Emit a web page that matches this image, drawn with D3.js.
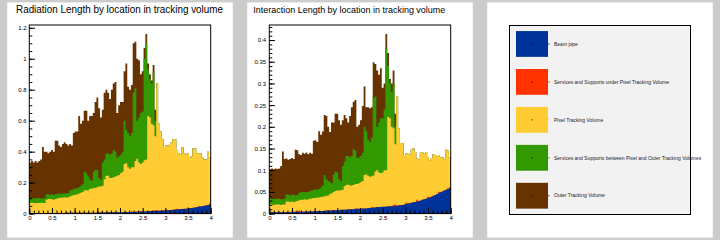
<!DOCTYPE html>
<html>
<head>
<meta charset="utf-8">
<script src="https://cdn.jsdelivr.net/npm/d3@7"></script>
<style>
body{margin:0;background:#cccccc}
svg{display:block;font-family:"Liberation Sans",Arial,sans-serif}
</style>
</head>
<body>
<svg id="chart" width="720" height="240"></svg>
<script>
var etaMin = 0, etaMax = 4, nBins = 100
var binW = (etaMax - etaMin) / nBins

var names = ["Beam pipe",
    "Services and Supports under Pixel Tracking Volume",
    "Pixel Tracking Volume",
    "Services and Supports between Pixel and Outer Tracking Volumes",
    "Outer Tracking Volume"]
var colors = ["#003399", "#ff3300", "#ffcc33", "#339900", "#663300"]

// values are cumulative: each layer includes the layers below it (stacked histos)
var radBeamPipe = [
    0.004,0.004,0.004,0.004,0.004,0.004,0.004,0.004,0.004,0.004,
    0.004,0.004,0.004,0.004,0.004,0.004,0.004,0.004,0.004,0.004,
    0.005,0.005,0.005,0.005,0.005,0.005,0.005,0.005,0.005,0.005,
    0.006,0.006,0.006,0.006,0.006,0.006,0.006,0.006,0.007,0.007,
    0.007,0.007,0.007,0.008,0.008,0.008,0.008,0.008,0.009,0.009,
    0.009,0.009,0.010,0.010,0.010,0.011,0.011,0.011,0.012,0.012,
    0.013,0.013,0.014,0.014,0.014,0.015,0.016,0.016,0.017,0.017,
    0.018,0.019,0.019,0.020,0.020,0.021,0.022,0.023,0.024,0.025,
    0.026,0.027,0.028,0.029,0.030,0.031,0.032,0.033,0.035,0.036,
    0.038,0.040,0.042,0.044,0.046,0.048,0.050,0.053,0.056,0.060]
var radServUnder = [
    0.004,0.004,0.004,0.004,0.004,0.004,0.004,0.004,0.004,0.004,
    0.004,0.004,0.004,0.004,0.004,0.004,0.004,0.008,0.004,0.004,
    0.005,0.005,0.005,0.005,0.005,0.005,0.005,0.005,0.005,0.005,
    0.006,0.006,0.006,0.006,0.006,0.006,0.006,0.006,0.007,0.011,
    0.007,0.007,0.007,0.008,0.008,0.008,0.008,0.008,0.009,0.009,
    0.009,0.009,0.010,0.010,0.010,0.011,0.015,0.011,0.012,0.012,
    0.013,0.013,0.014,0.014,0.014,0.015,0.016,0.016,0.022,0.022,
    0.018,0.019,0.019,0.020,0.020,0.026,0.022,0.023,0.024,0.025,
    0.026,0.032,0.028,0.029,0.030,0.031,0.032,0.039,0.035,0.036,
    0.038,0.040,0.042,0.049,0.046,0.048,0.050,0.053,0.056,0.065]
var radPixel = [
    0.068,0.070,0.068,0.067,0.069,0.068,0.070,0.068,0.069,0.090,
    0.095,0.094,0.092,0.090,0.095,0.097,0.100,0.102,0.104,0.105,
    0.103,0.106,0.110,0.115,0.120,0.120,0.125,0.130,0.135,0.140,
    0.150,0.150,0.150,0.160,0.160,0.165,0.165,0.170,0.175,0.175,
    0.180,0.220,0.245,0.245,0.230,0.230,0.235,0.240,0.245,0.250,
    0.260,0.270,0.320,0.325,0.300,0.290,0.300,0.300,0.340,0.355,
    0.330,0.320,0.330,0.345,0.350,0.630,0.620,0.580,0.570,0.500,
    0.840,0.580,0.530,0.480,0.430,0.440,0.440,0.450,0.460,0.480,
    0.480,0.410,0.390,0.380,0.430,0.390,0.380,0.390,0.360,0.370,
    0.420,0.420,0.390,0.390,0.390,0.360,0.350,0.350,0.400,0.360]
var radServBetween = [
    0.100,0.100,0.098,0.100,0.099,0.100,0.098,0.097,0.100,0.125,
    0.125,0.122,0.125,0.120,0.125,0.128,0.130,0.128,0.130,0.132,
    0.130,0.133,0.150,0.150,0.160,0.160,0.165,0.170,0.180,0.190,
    0.270,0.260,0.240,0.220,0.210,0.270,0.285,0.280,0.230,0.220,
    0.330,0.350,0.390,0.390,0.380,0.390,0.410,0.400,0.360,0.370,
    0.380,0.400,0.600,0.540,0.520,0.500,0.520,0.780,0.810,0.600,
    0.620,0.650,0.660,1.000,1.100,0.930,0.870,0.840,0.910,0.600,
    0.840,0.580,0.530,0.480,0.430,0.440,0.440,0.450,0.460,0.480,
    0.480,0.410,0.390,0.380,0.430,0.390,0.380,0.390,0.360,0.370,
    0.420,0.420,0.390,0.390,0.390,0.360,0.350,0.350,0.400,0.360]
var radOuter = [
    0.330,0.340,0.330,0.340,0.330,0.340,0.350,0.430,0.400,0.400,
    0.390,0.400,0.410,0.400,0.470,0.470,0.440,0.430,0.450,0.460,
    0.450,0.440,0.450,0.440,0.520,0.530,0.530,0.630,0.580,0.600,
    0.665,0.665,0.600,0.630,0.630,0.650,0.720,0.750,0.680,0.620,
    0.670,0.780,0.800,0.780,0.740,0.800,0.840,0.850,0.650,0.700,
    0.720,0.720,0.920,0.970,0.820,0.800,0.830,1.100,1.110,1.000,
    0.990,0.900,0.920,1.070,1.160,0.970,0.900,0.860,0.960,0.670,
    0.840,0.580,0.530,0.480,0.430,0.440,0.440,0.450,0.460,0.480,
    0.480,0.410,0.390,0.380,0.430,0.390,0.380,0.390,0.360,0.370,
    0.420,0.420,0.390,0.390,0.390,0.360,0.350,0.350,0.400,0.360]

var intBeamPipe = [
    0.003,0.003,0.003,0.003,0.003,0.003,0.003,0.003,0.003,0.003,
    0.003,0.003,0.004,0.004,0.004,0.004,0.004,0.004,0.004,0.004,
    0.005,0.005,0.005,0.005,0.005,0.005,0.006,0.006,0.006,0.006,
    0.006,0.007,0.007,0.007,0.007,0.008,0.008,0.008,0.008,0.009,
    0.009,0.009,0.009,0.010,0.010,0.010,0.010,0.011,0.011,0.011,
    0.011,0.012,0.012,0.012,0.013,0.013,0.013,0.014,0.014,0.015,
    0.015,0.015,0.016,0.016,0.016,0.017,0.017,0.017,0.017,0.018,
    0.018,0.019,0.019,0.020,0.021,0.022,0.023,0.024,0.025,0.026,
    0.027,0.028,0.029,0.030,0.032,0.033,0.034,0.036,0.037,0.039,
    0.041,0.043,0.045,0.047,0.049,0.051,0.053,0.055,0.057,0.059]
var intServUnder = [
    0.003,0.003,0.003,0.003,0.003,0.003,0.003,0.003,0.003,0.003,
    0.003,0.003,0.004,0.004,0.004,0.004,0.007,0.004,0.004,0.004,
    0.005,0.005,0.005,0.005,0.005,0.005,0.006,0.006,0.006,0.006,
    0.006,0.007,0.007,0.007,0.007,0.008,0.008,0.008,0.008,0.009,
    0.009,0.009,0.009,0.010,0.010,0.010,0.010,0.011,0.011,0.011,
    0.011,0.012,0.012,0.012,0.013,0.013,0.015,0.014,0.014,0.015,
    0.015,0.015,0.016,0.016,0.016,0.017,0.017,0.017,0.020,0.021,
    0.018,0.019,0.019,0.020,0.021,0.025,0.023,0.024,0.025,0.026,
    0.027,0.032,0.029,0.030,0.032,0.033,0.034,0.039,0.037,0.039,
    0.041,0.043,0.045,0.050,0.049,0.051,0.053,0.055,0.057,0.061]
var intPixel = [
    0.021,0.021,0.020,0.021,0.021,0.021,0.020,0.021,0.021,0.028,
    0.028,0.027,0.028,0.026,0.028,0.029,0.031,0.032,0.032,0.033,
    0.032,0.033,0.034,0.035,0.036,0.036,0.037,0.037,0.038,0.039,
    0.040,0.041,0.042,0.045,0.047,0.050,0.052,0.053,0.053,0.054,
    0.055,0.063,0.066,0.067,0.065,0.065,0.066,0.068,0.068,0.070,
    0.072,0.075,0.089,0.090,0.087,0.085,0.086,0.088,0.097,0.100,
    0.095,0.093,0.095,0.100,0.100,0.223,0.220,0.200,0.197,0.160,
    0.270,0.197,0.163,0.162,0.133,0.139,0.138,0.137,0.147,0.150,
    0.142,0.127,0.125,0.140,0.140,0.138,0.142,0.130,0.122,0.128,
    0.137,0.135,0.132,0.135,0.130,0.130,0.125,0.147,0.145,0.129]
var intServBetween = [
    0.034,0.034,0.033,0.034,0.034,0.034,0.033,0.033,0.034,0.044,
    0.044,0.042,0.044,0.043,0.042,0.043,0.048,0.049,0.050,0.050,
    0.049,0.050,0.052,0.053,0.055,0.056,0.055,0.057,0.060,0.065,
    0.089,0.080,0.075,0.073,0.070,0.090,0.097,0.095,0.080,0.075,
    0.110,0.120,0.133,0.133,0.130,0.133,0.149,0.145,0.128,0.130,
    0.133,0.140,0.200,0.190,0.170,0.165,0.175,0.266,0.270,0.200,
    0.210,0.220,0.220,0.240,0.380,0.340,0.300,0.280,0.300,0.200,
    0.270,0.197,0.163,0.162,0.133,0.139,0.138,0.137,0.147,0.150,
    0.142,0.127,0.125,0.140,0.140,0.138,0.142,0.130,0.122,0.128,
    0.137,0.135,0.132,0.135,0.130,0.130,0.125,0.147,0.145,0.129]
var intOuter = [
    0.102,0.104,0.102,0.104,0.103,0.104,0.110,0.143,0.126,0.127,
    0.124,0.126,0.128,0.126,0.147,0.146,0.137,0.135,0.140,0.138,
    0.141,0.137,0.140,0.138,0.168,0.169,0.165,0.190,0.182,0.189,
    0.227,0.225,0.200,0.188,0.210,0.210,0.230,0.230,0.215,0.205,
    0.215,0.227,0.220,0.210,0.225,0.245,0.258,0.262,0.200,0.205,
    0.215,0.248,0.293,0.245,0.245,0.243,0.245,0.349,0.345,0.330,
    0.320,0.335,0.290,0.300,0.414,0.370,0.310,0.300,0.330,0.230,
    0.270,0.197,0.163,0.162,0.133,0.139,0.138,0.137,0.147,0.150,
    0.142,0.127,0.125,0.140,0.140,0.138,0.142,0.130,0.122,0.128,
    0.137,0.135,0.132,0.135,0.130,0.130,0.125,0.147,0.145,0.129]

var xMajorStep = 0.5, xMinorStep = 0.1

var svg = d3.select("#chart")
svg.append("rect").attr("width", 720).attr("height", 240).attr("fill", "#cccccc")
// three pads, like a ROOT canvas divided in 3
;[0, 1, 2].forEach(k => {
    svg.append("rect")
        .attr("x", 240 * k + 7.2).attr("y", 2.4)
        .attr("width", 225.6).attr("height", 235.2)
        .attr("fill", "#ffffff")
})

function styleAxis(g){
    g.select(".domain").remove()
    g.attr("font-size", 6).attr("font-family", null).attr("color", "#000")
    g.selectAll("line").attr("stroke-width", 1)
}

function draw_stack(ox, levels, opt){
    var left = ox + 22.1, right = ox + 203.5, top = 25, bottom = 213.6
    var x = d3.scaleLinear().domain([etaMin, etaMax]).range([left, right])
    var ymax = d3.max(levels[levels.length - 1]) * 1.05
    var y = d3.scaleLinear().domain([0, ymax]).range([bottom, top])
    var area = d3.area()
        .curve(d3.curveStepAfter)
        .x(d => x(d[0]))
        .y0(y(0))
        .y1(d => y(d[1]))

    var g = svg.append("g")
    // outermost first, the inner layers painted over it
    for (var k = levels.length - 1; k >= 0; k--){
        var pts = levels[k].map((v, i) => [etaMin + i * binW, v])
        pts.push([etaMax, levels[k][nBins - 1]])
        g.append("path").attr("d", area(pts)).attr("fill", colors[k])
    }

    g.append("g").attr("transform", `translate(0,${bottom})`)
        .call(d3.axisBottom(x).tickValues(d3.range(etaMin, etaMax + 1e-6, xMinorStep)).tickSize(-3).tickFormat(""))
        .call(styleAxis)
    g.append("g").attr("transform", `translate(0,${bottom})`)
        .call(d3.axisBottom(x).tickValues(d3.range(etaMin, etaMax + 1e-6, xMajorStep)).tickSize(-5.7).tickPadding(2.6).tickFormat(d3.format("~g")))
        .call(styleAxis)
    g.append("g").attr("transform", `translate(${left},0)`)
        .call(d3.axisLeft(y).tickValues(d3.range(0, ymax, opt.yMinor)).tickSize(-3).tickFormat(""))
        .call(styleAxis)
    g.append("g").attr("transform", `translate(${left},0)`)
        .call(d3.axisLeft(y).tickValues(d3.range(0, ymax, opt.yMajor)).tickSize(-5.7).tickPadding(opt.labelPad).tickFormat(d3.format("~g")))
        .call(styleAxis)

    g.append("rect")
        .attr("x", left).attr("y", top)
        .attr("width", right - left).attr("height", bottom - top)
        .attr("fill", "none").attr("stroke", "#000").attr("stroke-width", 1)

    svg.append("text")
        .attr("x", ox + opt.titleX).attr("y", 13.3)
        .attr("font-size", opt.titleSize)
        .attr("textLength", opt.titleLen).attr("lengthAdjust", "spacingAndGlyphs")
        .attr("fill", "#000")
        .text(opt.title)
}

draw_stack(7.2, [radBeamPipe, radServUnder, radPixel, radServBetween, radOuter], {
    title: "Radiation Length by location in tracking volume",
    titleX: 8.8, titleSize: 10, titleLen: 207,
    yMajor: 0.2, yMinor: 0.05, labelPad: 2.6
})
draw_stack(247.2, [intBeamPipe, intServUnder, intPixel, intServBetween, intOuter], {
    title: "Interaction Length by location in tracking volume",
    titleX: 6.1, titleSize: 9, titleLen: 192,
    yMajor: 0.05, yMinor: 0.01, labelPad: 3.2
})

// legend pad
var lg = svg.append("g")
lg.append("rect")
    .attr("x", 509.5).attr("y", 25.5).attr("width", 181).attr("height", 189)
    .attr("fill", "#f2f2f2").attr("stroke", "#000").attr("stroke-width", 1)
var row = d3.scaleBand().domain(names).range([25, 214.7]).paddingInner(0.32).paddingOuter(0.16)
var entry = lg.selectAll("g.entry").data(names).join("g").attr("class", "entry")
entry.append("rect")
    .attr("x", 516).attr("y", d => row(d))
    .attr("width", 32).attr("height", row.bandwidth())
    .attr("fill", (d, i) => colors[i])
entry.append("line")
    .attr("x1", 548).attr("x2", 549.5)
    .attr("y1", d => row(d) + row.bandwidth() / 2).attr("y2", d => row(d) + row.bandwidth() / 2)
    .attr("stroke", (d, i) => colors[i])
entry.append("rect")
    .attr("x", 531.5).attr("y", d => row(d) + row.bandwidth() / 2 - 0.5)
    .attr("width", 1).attr("height", 1).attr("fill", "#000")
entry.append("text")
    .attr("x", 554).attr("y", d => row(d) + row.bandwidth() / 2)
    .attr("dy", "0.35em")
    .attr("font-size", 5).attr("fill", "#222")
    .text(d => d)
</script>
</body>
</html>
